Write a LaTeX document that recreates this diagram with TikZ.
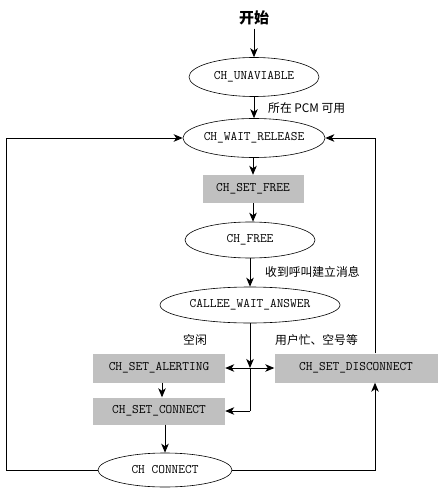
\documentclass[tikz,border=0pt]{standalone}
\usepackage{fontspec}
\newfontfamily\cjk{Noto Sans CJK SC}
\usetikzlibrary{shapes.geometric,arrows.meta}
\definecolor{boxgray}{RGB}{192,192,192}
\begin{document}
\begin{tikzpicture}[x=1pt,y=-1pt,
  state/.style={ellipse,draw,line width=0.6pt,inner sep=0pt,font=\ttfamily\fontsize{13}{14}\selectfont},
  act/.style={rectangle,fill=boxgray,inner sep=0pt,font=\ttfamily\fontsize{13}{14}\selectfont},
  lbl/.style={font=\cjk\fontsize{11.8}{13}\selectfont,anchor=west,inner sep=0pt},
  conn/.style={line width=0.9pt},
  arr/.style={conn,-{Stealth[length=9pt,width=7.5pt,inset=2.5pt]}}]
\useasboundingbox (0,0) rectangle (447,497);
\node[font=\cjk\bfseries\fontsize{15}{16}\selectfont] (start) at (254,18) {开始};
\node[state,minimum width=130,minimum height=39] (u) at (254,77) {CH\_UNAVIABLE};
\node[state,minimum width=133,minimum height=39] (wr) at (254,138) {CH\_WAIT\_RELEASE};
\node[act,minimum width=101,minimum height=28] (sf) at (253,189) {CH\_SET\_FREE};
\node[state,minimum width=130,minimum height=36] (fr) at (250,240) {CH\_FREE};
\node[state,minimum width=180,minimum height=36] (ca) at (250,305) {CALLEE\_WAIT\_ANSWER};
\node[act,minimum width=132,minimum height=29] (al) at (159,368) {CH\_SET\_ALERTING};
\node[act,minimum width=163,minimum height=29] (dc) at (356,368) {CH\_SET\_DISCONNECT};
\node[act,minimum width=132,minimum height=27] (cn) at (159,411) {CH\_SET\_CONNECT};
\node[state,minimum width=134,minimum height=34] (cc) at (165,470) {CH CONNECT};
\node[lbl] (l1) at (268,108) {所在 PCM 可用};
\node[lbl] (l2) at (265,272) {收到呼叫建立消息};
\node[lbl] (l3) at (183,340) {空闲};
\node[lbl] (l4) at (275,340) {用户忙、空号等};
\coordinate (j1) at (250,368);
\coordinate (j2) at (250,411);
\coordinate (L) at (6,300);
\coordinate (R) at (375,300);
\draw[arr] (start.south) -- (u.north);
\draw[arr] (u.south) -- (wr.north);
\draw[arr] (wr.south -| sf.north) -- (sf.north);
\draw[arr] (sf.south) -- (sf.south |- fr.north);
\draw[arr] (fr.south) -- (ca.north);
\draw[arr] (ca.south) -- (j1);
\draw[conn] (j1) -- (j2);
\draw[arr] (j1) -- (al.east);
\draw[arr] (j1) -- (dc.west);
\draw[arr] (j2) -- (cn.east);
\draw[arr] (al.south -| 162,0) -- (cn.north -| 162,0);
\draw[arr] (cn.south -| cc.north) -- (cc.north);
\draw[arr] (cc.west) -- (cc.west -| L) -- (wr.west -| L) -- (wr.west);
\draw[arr] (cc.east) -- (cc.east -| R) -- (dc.south -| R);
\draw[arr] (dc.north -| R) -- (wr.east -| R) -- (wr.east);
\end{tikzpicture}
\end{document}
